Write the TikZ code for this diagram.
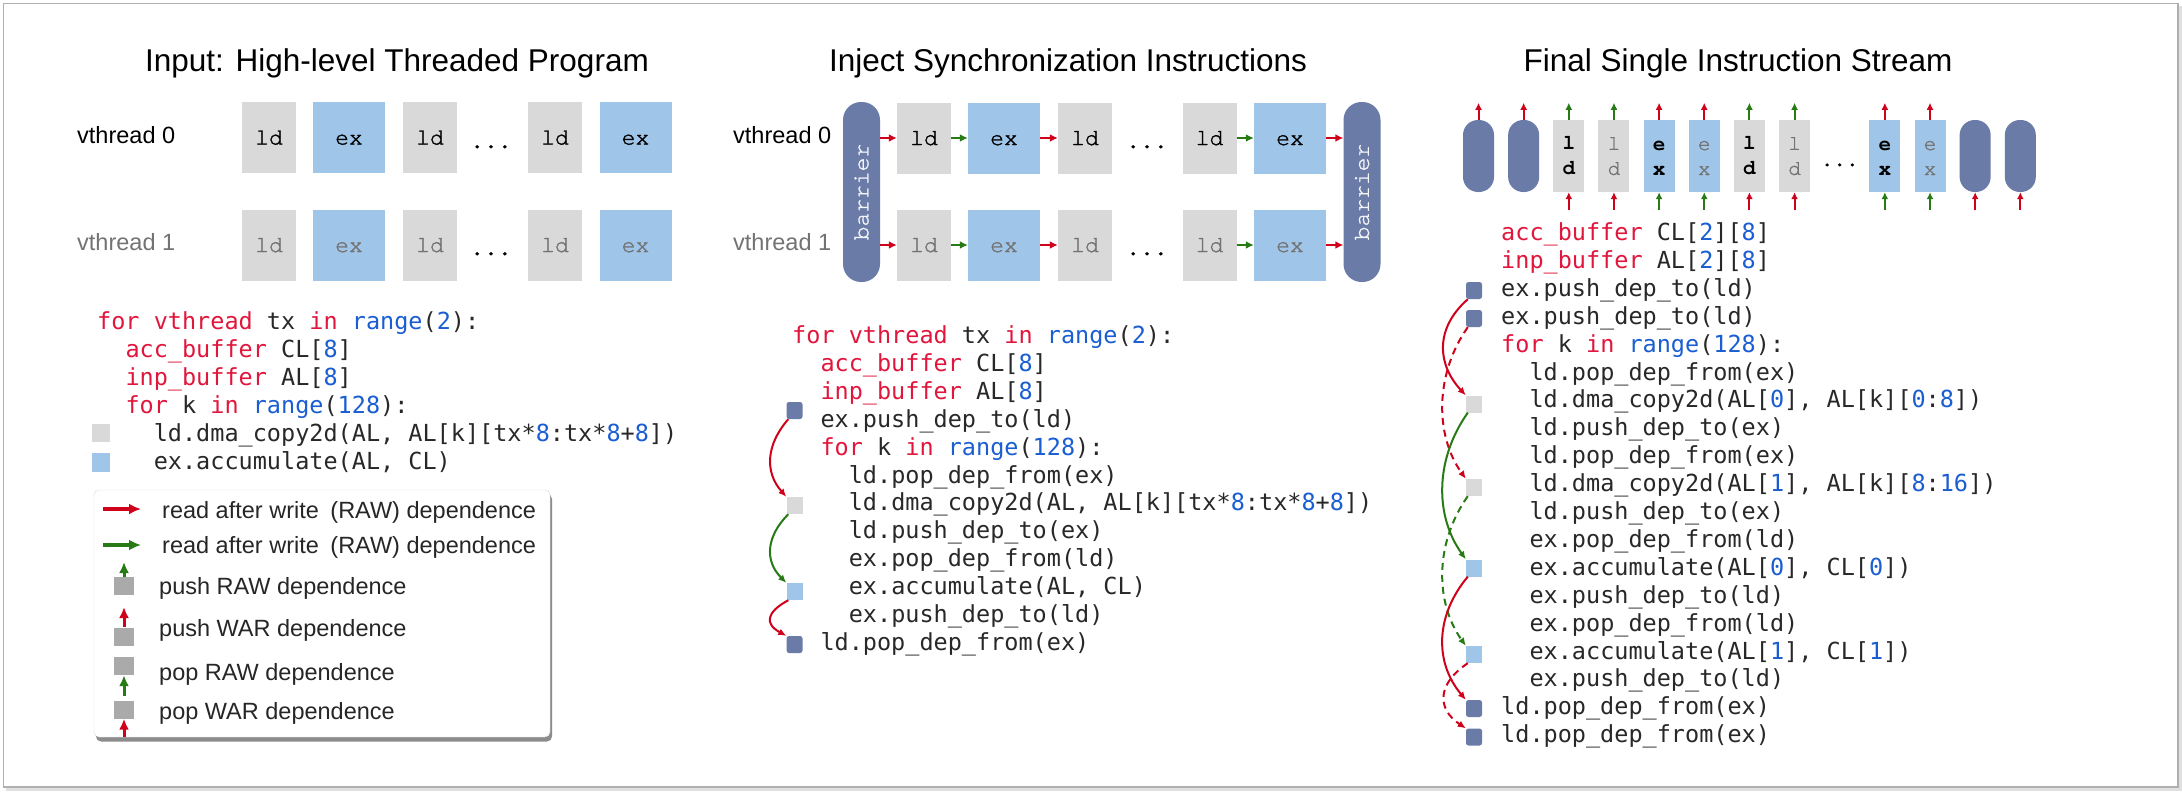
\documentclass[tikz,border=0pt]{standalone}
\usepackage{fontspec}
\setmainfont{Liberation Sans}
\newfontfamily\codefont{DejaVu Sans Mono}
\newfontfamily\boxfont{texgyrecursor}[Extension=.otf, UprightFont=*-regular, BoldFont=*-bold, UprightFeatures={FakeBold=1.2}]
\usetikzlibrary{arrows.meta}
\definecolor{ldgray}{RGB}{217,217,217}
\definecolor{exblue}{RGB}{159,197,232}
\definecolor{barblue}{RGB}{105,123,166}
\definecolor{arrred}{RGB}{208,2,27}
\definecolor{arrgreen}{RGB}{40,122,20}
\definecolor{codered}{RGB}{225,22,60}
\definecolor{codeblue}{RGB}{26,94,210}
\definecolor{codeblack}{RGB}{40,40,40}
\definecolor{textgray}{RGB}{115,115,115}
\definecolor{legsq}{RGB}{170,170,170}
\definecolor{framegray}{RGB}{175,175,175}
\newcommand\titlef{\fontsize{31.5pt}{36pt}\selectfont}
\newcommand\lblf{\fontsize{23.5pt}{28pt}\selectfont}
\newcommand\codef{\codefont\fontsize{23.5pt}{28pt}\selectfont}
\newcommand\boxf{\boxfont\fontsize{23pt}{28pt}\selectfont}
\newcommand\slotf{\boxfont\fontsize{21pt}{25pt}\selectfont}
\newcommand\kr[1]{\textcolor{codered}{#1}}
\newcommand\kb[1]{\textcolor{codeblue}{#1}}
\newcommand\st{\rule{0pt}{13pt}}
\begin{document}
\begin{tikzpicture}[x=1pt,y=-1pt,
  ttl/.style={font=\titlef, anchor=base, inner sep=0},
  lbl/.style={font=\lblf, anchor=base west, inner sep=0},
  ldb/.style={fill=ldgray, minimum width=54pt, minimum height=71pt, inner sep=0, font=\boxf, text height=14pt, text depth=0pt},
  exb/.style={ldb, fill=exblue, minimum width=72pt},
  faded/.style={text=textgray},
  dotsn/.style={font=\boxf, anchor=base, inner sep=0},
  barrierbox/.style={fill=barblue, minimum width=37pt, minimum height=180pt, rounded corners=18pt, inner sep=0},
  barriertxt/.style={font=\boxf, text=white!92!barblue, rotate=90, inner sep=0},
  slot/.style={minimum width=31pt, minimum height=72pt, inner sep=0, font=\slotf, align=center},
  sld/.style={slot, fill=ldgray},
  sex/.style={slot, fill=exblue},
  pill/.style={slot, fill=barblue, rounded corners=15pt},
  code/.style={font=\codef, anchor=base west, inner sep=0, text=codeblack},
  sqd/.style={fill=barblue, minimum width=16pt, minimum height=17pt, inner sep=0, rounded corners=2.5pt},
  sql/.style={fill=ldgray, minimum width=16pt, minimum height=17pt, inner sep=0},
  sqe/.style={fill=exblue, minimum width=16pt, minimum height=17pt, inner sep=0},
  lsq/.style={fill=legsq, minimum width=20pt, minimum height=18pt, inner sep=0},
  rarr/.style={draw=arrred, line width=2.5pt, -{Latex[length=8pt,width=8pt]}},
  garr/.style={draw=arrgreen, line width=2.5pt, -{Latex[length=8pt,width=8pt]}},
  rarrs/.style={draw=arrred, line width=2pt, -{Latex[length=7pt,width=7pt]}},
  garrs/.style={draw=arrgreen, line width=2pt, -{Latex[length=7pt,width=7pt]}},
  rcurve/.style={draw=arrred, line width=2pt, -{Latex[length=8pt,width=7pt]}},
  gcurve/.style={draw=arrgreen, line width=2pt, -{Latex[length=8pt,width=7pt]}},
  dsh/.style={dash pattern=on 7pt off 5pt},
  rleg/.style={draw=arrred, line width=3.5pt, -{Latex[length=12pt,width=11pt]}},
  gleg/.style={draw=arrgreen, line width=3.5pt, -{Latex[length=12pt,width=11pt]}},
  rlegv/.style={draw=arrred, line width=3pt, -{Latex[length=11pt,width=10pt]}},
  glegv/.style={draw=arrgreen, line width=3pt, -{Latex[length=11pt,width=10pt]}},
  legt/.style={font=\lblf, anchor=base west, inner sep=0, text=black!85}
]
\useasboundingbox (0,0) rectangle (2182,792);
\fill[white] (0,0) rectangle (2182,792);
% outer frame
\draw[black!12, line width=2.5pt] (6,789.5) -- (2180.5,789.5) -- (2180.5,6);
\draw[framegray, line width=1.5pt] (3.5,3.5) rectangle (2178,787);

% ================= Panel 1 =================
\node[ttl] (t1) at (397,71) {Input: High-level Threaded Program};
\node[lbl] (v10) at (77,143) {vthread 0};
\node[lbl, faded] (v11) at (77,250.5) {vthread 1};
\node[ldb] (a00) at (269,137.5) {ld};
\node[exb] (a01) at (349,137.5) {ex};
\node[ldb] (a02) at (430,137.5) {ld};
\node[dotsn] (a0d) at (491,148) {...};
\node[ldb] (a03) at (555,137.5) {ld};
\node[exb] (a04) at (635.5,137.5) {ex};
\node[ldb, faded] (a10) at (269,245) {ld};
\node[exb, faded] (a11) at (349,245) {ex};
\node[ldb, faded] (a12) at (430,245) {ld};
\node[dotsn] (a1d) at (491,255) {...};
\node[ldb, faded] (a13) at (555,245) {ld};
\node[exb, faded] (a14) at (635.5,245) {ex};

\node[code] (p1c1) at (97,329.5) {\kr{for vthread} tx \kr{in} \kb{range}(\kb{2}):};
\node[code] (p1c2) at (125.3,357.5) {\kr{acc\_buffer} CL[\kb{8}]};
\node[code] (p1c3) at (125.3,385.5) {\kr{inp\_buffer} AL[\kb{8}]};
\node[code] (p1c4) at (125.3,413.5) {\kr{for} k \kr{in} \kb{range}(\kb{128}):};
\node[code] (p1c5) at (153.6,441.5) {ld.dma\_copy2d(AL, AL[k][tx*\kb{8}:tx*\kb{8}+\kb{8}])};
\node[code] (p1c6) at (153.6,469.5) {ex.accumulate(AL, CL)};
\node[sql, minimum width=18pt, minimum height=18pt] (q11) at (101,433) {};
\node[sqe, minimum width=18pt, minimum height=19pt] (q12) at (101,462.5) {};

% legend
\fill[black!45, rounded corners=5pt] (96,494) rectangle (552,741.5);
\filldraw[fill=white, draw=black!15, rounded corners=5pt] (94,490) rectangle (550,737);
\coordinate (lg1s) at (103,509);
\coordinate (lg1e) at (141,509);
\coordinate (lg2s) at (103,545);
\coordinate (lg2e) at (141,545);
\draw[rleg] (lg1s) -- (lg1e);
\draw[gleg] (lg2s) -- (lg2e);
\node[legt] (lt1) at (162,518.5) {read after write\hspace{5pt} (RAW) dependence};
\node[legt] (lt2) at (162,553.5) {read after write\hspace{5pt} (RAW) dependence};
\node[lsq] (ls3) at (124,586) {};
\coordinate (la3) at (124,562);
\draw[glegv] (ls3.north) -- (la3);
\node[legt] (lt3) at (159,594.5) {push RAW dependence};
\node[lsq] (ls4) at (124,636.5) {};
\coordinate (la4) at (124,607);
\draw[rlegv] (ls4.north) -- (la4);
\node[legt] (lt4) at (159,636.5) {push WAR dependence};
\node[lsq] (ls5) at (124,666) {};
\coordinate (la5) at (124,696);
\draw[glegv] (la5) -- (ls5.south);
\node[legt] (lt5) at (159,680.5) {pop RAW dependence};
\node[lsq] (ls6) at (124,709.5) {};
\coordinate (la6) at (124,737);
\draw[rlegv] (la6) -- (ls6.south);
\node[legt] (lt6) at (159,719.5) {pop WAR dependence};

% ================= Panel 2 =================
\node[ttl] (t2) at (1068,71) {Inject Synchronization Instructions};
\node[lbl] (v20) at (733,143) {vthread 0};
\node[lbl, faded] (v21) at (733,250.5) {vthread 1};
\node[barrierbox] (bL) at (861.5,192) {};
\node[barriertxt] (bLt) at (bL.center) {barrier};
\node[barrierbox] (bR) at (1362,192) {};
\node[barriertxt] (bRt) at (bR.center) {barrier};
\node[ldb] (b00) at (924,138) {ld};
\node[exb] (b01) at (1004,138) {ex};
\node[ldb] (b02) at (1085,138) {ld};
\node[dotsn] (b0d) at (1147,148) {...};
\node[ldb] (b03) at (1209.5,138) {ld};
\node[exb] (b04) at (1290,138) {ex};
\node[ldb, faded] (b10) at (924,245) {ld};
\node[exb, faded] (b11) at (1004,245) {ex};
\node[ldb, faded] (b12) at (1085,245) {ld};
\node[dotsn] (b1d) at (1147,255) {...};
\node[ldb, faded] (b13) at (1209.5,245) {ld};
\node[exb, faded] (b14) at (1290,245) {ex};
\foreach \r in {0,1}{
  \draw[rarr] (bL.east |- b\r0.west) -- (b\r0.west);
  \draw[garr] (b\r0.east) -- (b\r1.west);
  \draw[rarr] (b\r1.east) -- (b\r2.west);
  \draw[garr] (b\r3.east) -- (b\r4.west);
  \draw[rarr] (b\r4.east) -- (bR.west |- b\r4.east);
}

\node[code] (p2c1) at (792,343.5) {\kr{for vthread} tx \kr{in} \kb{range}(\kb{2}):};
\node[code] (p2c2) at (820.3,371.4) {\kr{acc\_buffer} CL[\kb{8}]};
\node[code] (p2c3) at (820.3,399.3) {\kr{inp\_buffer} AL[\kb{8}]};
\node[code] (p2c4) at (820.3,427.2) {ex.push\_dep\_to(ld)};
\node[code] (p2c5) at (820.3,455.1) {\kr{for} k \kr{in} \kb{range}(\kb{128}):};
\node[code] (p2c6) at (848.6,483) {ld.pop\_dep\_from(ex)};
\node[code] (p2c7) at (848.6,510.9) {ld.dma\_copy2d(AL, AL[k][tx*\kb{8}:tx*\kb{8}+\kb{8}])};
\node[code] (p2c8) at (848.6,538.8) {ld.push\_dep\_to(ex)};
\node[code] (p2c9) at (848.6,566.7) {ex.pop\_dep\_from(ld)};
\node[code] (p2c10) at (848.6,594.6) {ex.accumulate(AL, CL)};
\node[code] (p2c11) at (848.6,622.5) {ex.push\_dep\_to(ld)};
\node[code] (p2c12) at (820.3,650.4) {ld.pop\_dep\_from(ex)};
\node[sqd] (q21) at (794.5,410.5) {};
\node[sql] (q22) at (794.5,505.5) {};
\node[sqe] (q23) at (794.5,591.5) {};
\node[sqd] (q24) at (794.5,644.5) {};
\draw[rcurve] ([xshift=2pt]q21.south west) .. controls +(-22,25) and +(-22,-25) .. (q22.north west);
\draw[gcurve] ([xshift=2pt]q22.south west) .. controls +(-22,22) and +(-22,-22) .. (q23.north west);
\draw[rcurve] ([xshift=2pt]q23.south west) .. controls +(-22,12) and +(-22,-12) .. (q24.north west);

% ================= Panel 3 =================
\node[ttl] (t3) at (1738,71) {Final Single Instruction Stream};
\node[pill] (s0) at (1478.5,156) {};
\node[pill] (s1) at (1523.65,156) {};
\node[sld, font=\slotf\bfseries] (s2) at (1568.8,156) {\st l\\d};
\node[sld, faded] (s3) at (1613.95,156) {\st l\\d};
\node[sex, font=\slotf\bfseries] (s4) at (1659.1,156) {\st e\\x};
\node[sex, faded] (s5) at (1704.25,156) {\st e\\x};
\node[sld, font=\slotf\bfseries] (s6) at (1749.4,156) {\st l\\d};
\node[sld, faded] (s7) at (1794.55,156) {\st l\\d};
\node[dotsn, font=\slotf] (s8) at (1839.7,166) {...};
\node[sex, font=\slotf\bfseries] (s9) at (1884.85,156) {\st e\\x};
\node[sex, faded] (s10) at (1930,156) {\st e\\x};
\node[pill] (s11) at (1975.15,156) {};
\node[pill] (s12) at (2020.3,156) {};
\foreach \n in {s0,s1,s4,s5,s9,s10}{
  \draw[rarrs] (\n.north) -- ([yshift=17pt]\n.north);
}
\foreach \n in {s2,s3,s6,s7}{
  \draw[garrs] (\n.north) -- ([yshift=17pt]\n.north);
}
\foreach \n in {s2,s3,s6,s7,s11,s12}{
  \draw[rarrs] ([yshift=-18pt]\n.south) -- (\n.south);
}
\foreach \n in {s4,s5,s9,s10}{
  \draw[garrs] ([yshift=-18pt]\n.south) -- (\n.south);
}

\node[code] (p3c1) at (1501,240.5) {\kr{acc\_buffer} CL[\kb{2}][\kb{8}]};
\node[code] (p3c2) at (1501,268.4) {\kr{inp\_buffer} AL[\kb{2}][\kb{8}]};
\node[code] (p3c3) at (1501,296.3) {ex.push\_dep\_to(ld)};
\node[code] (p3c4) at (1501,324.2) {ex.push\_dep\_to(ld)};
\node[code] (p3c5) at (1501,352.1) {\kr{for} k \kr{in} \kb{range}(\kb{128}):};
\node[code] (p3c6) at (1529.3,380) {ld.pop\_dep\_from(ex)};
\node[code] (p3c7) at (1529.3,407.9) {ld.dma\_copy2d(AL[\kb{0}], AL[k][\kb{0}:\kb{8}])};
\node[code] (p3c8) at (1529.3,435.8) {ld.push\_dep\_to(ex)};
\node[code] (p3c9) at (1529.3,463.7) {ld.pop\_dep\_from(ex)};
\node[code] (p3c10) at (1529.3,491.6) {ld.dma\_copy2d(AL[\kb{1}], AL[k][\kb{8}:\kb{16}])};
\node[code] (p3c11) at (1529.3,519.5) {ld.push\_dep\_to(ex)};
\node[code] (p3c12) at (1529.3,547.4) {ex.pop\_dep\_from(ld)};
\node[code] (p3c13) at (1529.3,575.3) {ex.accumulate(AL[\kb{0}], CL[\kb{0}])};
\node[code] (p3c14) at (1529.3,603.2) {ex.push\_dep\_to(ld)};
\node[code] (p3c15) at (1529.3,631.1) {ex.pop\_dep\_from(ld)};
\node[code] (p3c16) at (1529.3,659) {ex.accumulate(AL[\kb{1}], CL[\kb{1}])};
\node[code] (p3c17) at (1529.3,686.9) {ex.push\_dep\_to(ld)};
\node[code] (p3c18) at (1501,714.8) {ld.pop\_dep\_from(ex)};
\node[code] (p3c19) at (1501,742.7) {ld.pop\_dep\_from(ex)};
\node[sqd] (q31) at (1474,290.5) {};
\node[sqd] (q32) at (1474,318.5) {};
\node[sql] (q33) at (1474,404) {};
\node[sql] (q34) at (1474,487.5) {};
\node[sqe] (q35) at (1474,568) {};
\node[sqe] (q36) at (1474,654.5) {};
\node[sqd] (q37) at (1474,708.5) {};
\node[sqd] (q38) at (1474,737) {};
\draw[rcurve] ([xshift=2pt]q31.south west) .. controls +(-34,30) and +(-28,-30) .. (q33.north west);
\draw[rcurve, dsh] ([xshift=2pt]q32.south west) .. controls +(-32,45) and +(-32,-45) .. (q34.north west);
\draw[gcurve] ([xshift=2pt]q33.south west) .. controls +(-32,45) and +(-32,-45) .. (q35.north west);
\draw[gcurve, dsh] ([xshift=2pt]q34.south west) .. controls +(-32,45) and +(-32,-45) .. (q36.north west);
\draw[rcurve] ([xshift=2pt]q35.south west) .. controls +(-32,38) and +(-32,-38) .. (q37.north west);
\draw[rcurve, dsh] ([xshift=2pt]q36.south west) .. controls +(-30,20) and +(-30,-20) .. (q38.north west);
\end{tikzpicture}
\end{document}
